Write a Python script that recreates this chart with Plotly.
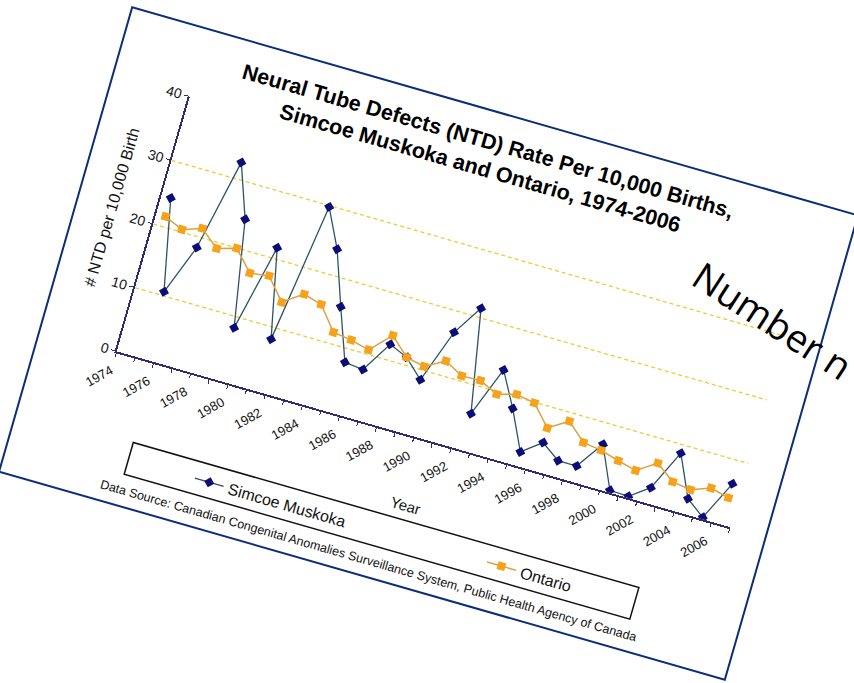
import plotly.graph_objects as go

# ---------------- data ----------------
years = list(range(1974, 2007))
simcoe = [24.5, 10.6, 18.4, 32.6, 24.5, 8.3, 21.7, 8.2, 29.8, 24.0, 15.8, 7.9, 7.6,
          12.4, 11.2, 8.5, 16.8, 21.4, 5.7, 13.4, 8.2, 2.2, 4.5, 2.5, 2.5, 6.75,
          0.35, 0.25, 2.45, 8.7, 2.4, 0.3, 6.4]
ontario = [21.6, 20.4, 21.4, 19.1, 19.95, 16.9, 17.3, 14.0, 16.1, 15.3, 11.8, 11.4,
           10.7, 13.8, 11.2, 10.6, 12.3, 10.8, 10.9, 9.6, 10.4, 9.9, 6.8, 8.7, 6.2,
           5.8, 5.0, 4.3, 6.3, 4.2, 3.8, 4.9, 4.2]
label_years = years[::2]
y_ticks = [0, 10, 20, 30, 40]
grid_values = [10, 20, 30]

title_text = ("<b>Neural Tube Defects (NTD) Rate Per 10,000 Births,<br>"
              "Simcoe Muskoka and Ontario, 1974-2006</b>")
y_title = "# NTD per 10,000 Birth"
x_title = "Year"
source_text = ("Data Source: Canadian Congenital Anomalies Surveillance System, "
               "Public Health Agency of Canada")
slide_text = "Number n"

# ---------------- geometry / style ----------------
FW, FH = 755, 483          # slide frame size
MX, MY = 100, 60           # extra canvas around the frame
W, H = FW + 2 * MX, FH + 2 * MY
PL, PR, PT, PB = 80, 718, 70, 335   # plot area inside frame
ANGLE = 16.0
CENTER = (428.75, 343.5)

AXIS = "#2e2e6e"
FRAME = "#0c2d78"
GOLD = "rgb(234,204,58)"
FONT = "Liberation Sans, Arial, sans-serif"


def px(u):
    return (u - PL) / (PR - PL)


def py(v):
    return (PB - v) / (PB - PT)


fig = go.Figure()
fig.add_trace(go.Scatter(
    x=years, y=simcoe, name="Simcoe Muskoka", mode="lines+markers",
    line=dict(color="#2c5466", width=1.3),
    marker=dict(symbol="diamond", size=8, color="#0d0d78"),
    legend="legend",
))
fig.add_trace(go.Scatter(
    x=years, y=ontario, name="Ontario", mode="lines+markers",
    line=dict(color="#dca242", width=1.5),
    marker=dict(symbol="square", size=8, color="#f5a21c"),
    legend="legend2",
))

shapes = []
for g in grid_values:
    shapes.append(dict(type="line", xref="paper", yref="y", x0=0, x1=1, y0=g, y1=g,
                       line=dict(color=GOLD, width=1.3, dash="4px,3px"), layer="below"))
# slide frame
shapes.append(dict(type="rect", xref="paper", yref="paper",
                   x0=px(0), x1=px(FW), y0=py(FH), y1=py(0),
                   line=dict(color=FRAME, width=2)))
# legend box
shapes.append(dict(type="rect", xref="paper", yref="paper",
                   x0=px(121), x1=px(647), y0=py(451), y1=py(418),
                   line=dict(color="#111111", width=1.5)))

annotations = [
    dict(text=title_text, x=px(379), y=py(17), xref="paper", yref="paper",
         xanchor="center", yanchor="top", showarrow=False, align="center",
         font=dict(size=21.5, color="black", family=FONT)),
    dict(text=y_title, x=px(35), y=py(198), xref="paper", yref="paper",
         xanchor="center", yanchor="middle", showarrow=False, textangle=-90,
         font=dict(size=16, color="#111", family=FONT)),
    dict(text=x_title, x=px(400), y=py(403), xref="paper", yref="paper",
         xanchor="center", yanchor="middle", showarrow=False,
         font=dict(size=15, color="#111", family=FONT)),
    dict(text=source_text, x=px(99), y=py(467), xref="paper", yref="paper",
         xanchor="left", yanchor="middle", showarrow=False,
         font=dict(size=12.5, color="#111", family=FONT)),
    dict(text=slide_text, x=px(702), y=py(124), xref="paper", yref="paper",
         xanchor="center", yanchor="middle", showarrow=False, textangle=17,
         font=dict(size=38, color="black", family="Open Sans, sans-serif")),
]

boundaries = [y - 0.5 for y in years] + [years[-1] + 0.5]

legend_common = dict(orientation="h", yanchor="middle", xanchor="left",
                     bgcolor="rgba(0,0,0,0)", borderwidth=0,
                     font=dict(size=16, color="#111", family=FONT))

fig.update_layout(
    width=W, height=H, autosize=False,
    margin=dict(l=MX + PL, r=W - MX - PR, t=MY + PT, b=H - MY - PB, pad=0),
    paper_bgcolor="white", plot_bgcolor="white",
    font=dict(family=FONT, color="black"),
    showlegend=True,
    legend=dict(x=px(185), y=py(435.5), **legend_common),
    legend2=dict(x=px(489), y=py(435.5), **legend_common),
    xaxis=dict(range=[years[0] - 0.5, years[-1] + 0.5], tickmode="array",
               tickvals=label_years, ticktext=[str(y) for y in label_years],
               tickangle=-45, ticks="", showline=True, linecolor=AXIS, linewidth=1.5,
               showgrid=False, zeroline=False, tickfont=dict(size=13, color="#111"),
               ticklabelstandoff=6, ticklabelshift=-11,
               minor=dict(tickmode="array", tickvals=boundaries, ticks="outside",
                          ticklen=4, tickcolor=AXIS, tickwidth=1, showgrid=False)),
    yaxis=dict(range=[0, 40], tickmode="array", tickvals=y_ticks, ticks="outside",
               ticklen=4, tickcolor=AXIS, showline=True, linecolor=AXIS, linewidth=1.5,
               showgrid=False, zeroline=False, tickfont=dict(size=14, color="#111")),
    shapes=shapes,
    annotations=annotations,
)

left = CENTER[0] - W / 2
top = CENTER[1] - H / 2
post = (
    "var gd=document.getElementById('{plot_id}');"
    "document.documentElement.style.overflow='hidden';"
    "document.body.style.margin='0';document.body.style.overflow='hidden';"
    "gd.style.position='absolute';"
    "gd.style.left='" + f"{left:.2f}" + "px';"
    "gd.style.top='" + f"{top:.2f}" + "px';"
    "gd.style.transformOrigin='50% 50%';"
    "gd.style.transform='rotate(" + f"{ANGLE:.2f}" + "deg)';"
)

fig.write_html("out.html", config={"displayModeBar": False}, post_script=post)
